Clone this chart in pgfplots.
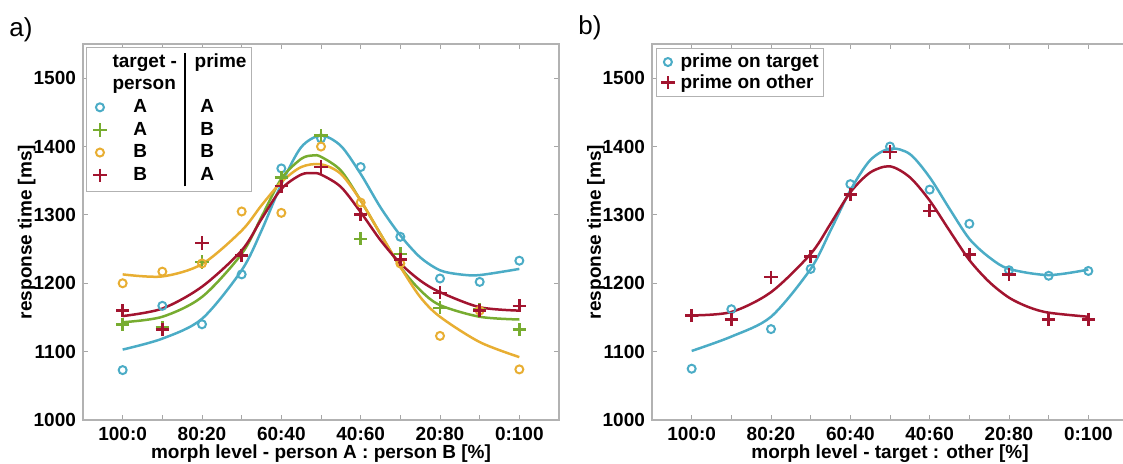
\documentclass[border=0pt]{standalone}
\usepackage{pgfplots}
\pgfplotsset{compat=1.18}
\usepackage{fontspec}
\setmainfont{Liberation Sans}
\definecolor{cblue}{RGB}{75,172,198}
\definecolor{cgreen}{RGB}{119,172,48}
\definecolor{corange}{RGB}{232,174,50}
\definecolor{cred}{RGB}{162,20,47}
\newcommand{\fnt}{\fontsize{9.5}{11}\selectfont\bfseries}
\newcommand{\lgrow}[2]{\makebox[3.39em][l]{\hspace{1.1em}#1}\hspace{0.37em}\vrule width 0.9pt height 0.87em depth 0.32em\hspace{0.47em}\makebox[2.6em][l]{\hspace{0.3em}#2}}
\newcommand{\lghead}{\parbox[b]{3.39em}{\raggedright target -\\person}\hspace{0.37em}\vrule width 0.9pt height 1.95em depth 0.32em\hspace{0.47em}\parbox[b]{2.6em}{\raggedright prime\\\mbox{}}}
\pgfplotsset{mystyle/.style={
  scale only axis, width=238pt, height=188pt,
  xmin=-1, xmax=11, ymin=1000, ymax=1550,
  xtick={0,...,10}, xticklabels={100:0,,80:20,,60:40,,40:60,,20:80,,0:100},
  ytick={1000,1100,...,1500},
  tick align=inside, tick pos=both,
  major tick length=2.5pt,
  axis line style={draw=black!30, line width=0.6pt},
  tick style={draw=black!35, line width=0.5pt},
  ticklabel style={font=\fnt}, label style={font=\fnt},
  /pgf/number format/assume math mode=true,
  /pgf/number format/1000 sep={},
  xlabel style={at={(axis description cs:0.5,-0.09)}, anchor=center},
  ylabel style={at={(axis description cs:-0.118,0.5)}, anchor=center},
  legend cell align=left,
  legend image code/.code={\draw[##1] plot coordinates {(0pt,0pt)};},
  circ/.style={only marks, mark=o, mark size=2pt, line width=1pt},
  plus/.style={only marks, mark=+, mark size=3.3pt, line width=1.3pt},
  curve/.style={line width=1.25pt, smooth, forget plot, mark=none},
}}
\begin{document}
\begin{tikzpicture}
\useasboundingbox (0,0) rectangle (561.5pt,232pt);
\node[font=\fontsize{13}{15}\selectfont] at (10.5pt,217pt) {a)};
\node[font=\fontsize{13}{15}\selectfont] at (295pt,218pt) {b)};
\begin{axis}[mystyle, at={(41.5pt,22pt)}, anchor=south west,
  xlabel={morph level - person A : person B [\%]},
  ylabel={response time [ms]},
  legend style={at={(axis description cs:0.006,0.991)}, anchor=north west,
    draw=black!30, line width=0.5pt, fill=white, font=\fnt,
    row sep=0pt, column sep=3pt, inner xsep=3.5pt, inner ysep=2.5pt,
    nodes={inner sep=0pt, text depth=}}]
\addlegendimage{empty legend}\addlegendentry{\lghead}
% fitted curves
\addplot[curve, cblue] coordinates {(0,1103)(1,1119)(2,1148)(3,1219)(3.5,1277)(4,1345)(4.5,1399)(5,1416)(5.5,1401)(6,1360)(6.5,1311)(7,1270)(7.5,1238)(8,1219)(8.5,1213)(9,1212)(10,1221)};
\addplot[curve, cgreen] coordinates {(0,1143)(1,1151)(2,1180)(3,1243)(3.5,1297)(4,1353)(4.5,1382)(4.8,1387)(5,1385)(5.5,1365)(6,1321)(6.5,1272)(7,1224)(7.5,1190)(8,1168)(9,1151)(10,1147)};
\addplot[curve, corange] coordinates {(0,1213)(1,1210)(2,1228)(3,1277)(3.5,1314)(4,1348)(4.5,1370)(5,1374)(5.5,1360)(6,1321)(6.5,1272)(7,1224)(7.5,1180)(8,1151)(9,1114)(10,1092)};
\addplot[curve, cred] coordinates {(0,1152)(1,1163)(2,1195)(3,1248)(3.5,1294)(4,1338)(4.5,1359)(4.8,1361)(5,1359)(5.5,1341)(6,1304)(6.5,1263)(7,1229)(7.5,1204)(8,1187)(9,1165)(10,1160)};
% data
\addplot[circ, cblue] coordinates {(0,1073)(1,1167)(2,1140)(3,1213)(4,1368)(5,1412)(6,1370)(7,1268)(8,1207)(9,1202)(10,1233)};
\addlegendentry{\lgrow{A}{A}}
\addplot[plus, cgreen] coordinates {(0,1140)(1,1135)(2,1231)(3,1241)(4,1355)(5,1416)(6,1265)(7,1243)(8,1164)(9,1162)(10,1132)};
\addlegendentry{\lgrow{A}{B}}
\addplot[circ, corange] coordinates {(0,1200)(1,1217)(2,1229)(3,1305)(4,1303)(5,1400)(6,1318)(7,1229)(8,1123)(9,1160)(10,1074)};
\addlegendentry{\lgrow{B}{B}}
\addplot[plus, cred] coordinates {(0,1160)(1,1132)(2,1259)(3,1241)(4,1342)(5,1370)(6,1301)(7,1235)(8,1186)(9,1160)(10,1167)};
\addlegendentry{\lgrow{B}{A}}
\end{axis}
\begin{axis}[mystyle, at={(326pt,22pt)}, anchor=south west,
  xlabel={morph level - target : other [\%]},
  ylabel={response time [ms]},
  legend style={at={(axis description cs:0.008,0.989)}, anchor=north west,
    draw=black!30, line width=0.5pt, fill=white, font=\fnt,
    row sep=0pt, column sep=3pt, inner xsep=2.5pt, inner ysep=1.5pt,
    nodes={inner xsep=0pt, inner ysep=1pt}}]
\addplot[curve, cblue] coordinates {(0,1101)(1,1122)(2,1151)(3,1221)(3.5,1277)(4,1336)(4.5,1380)(5,1397)(5.5,1389)(6,1355)(6.5,1309)(7,1265)(7.5,1238)(8,1221)(9,1212)(10,1220)};
\addplot[curve, cred] coordinates {(0,1153)(1,1158)(2,1187)(3,1243)(3.5,1287)(4,1333)(4.5,1362)(5,1371)(5.5,1355)(6,1321)(6.5,1277)(7,1234)(7.5,1202)(8,1179)(8.5,1165)(9,1157)(10,1151)};
\addplot[circ, cblue] coordinates {(0,1075)(1,1162)(2,1133)(3,1221)(4,1345)(5,1400)(6,1337)(7,1287)(8,1219)(9,1211)(10,1218)};
\addlegendentry{prime on target}
\addplot[plus, cred] coordinates {(0,1153)(1,1147)(2,1209)(3,1239)(4,1330)(5,1392)(6,1306)(7,1242)(8,1213)(9,1147)(10,1147)};
\addlegendentry{prime on other}
\end{axis}
\end{tikzpicture}
\end{document}
